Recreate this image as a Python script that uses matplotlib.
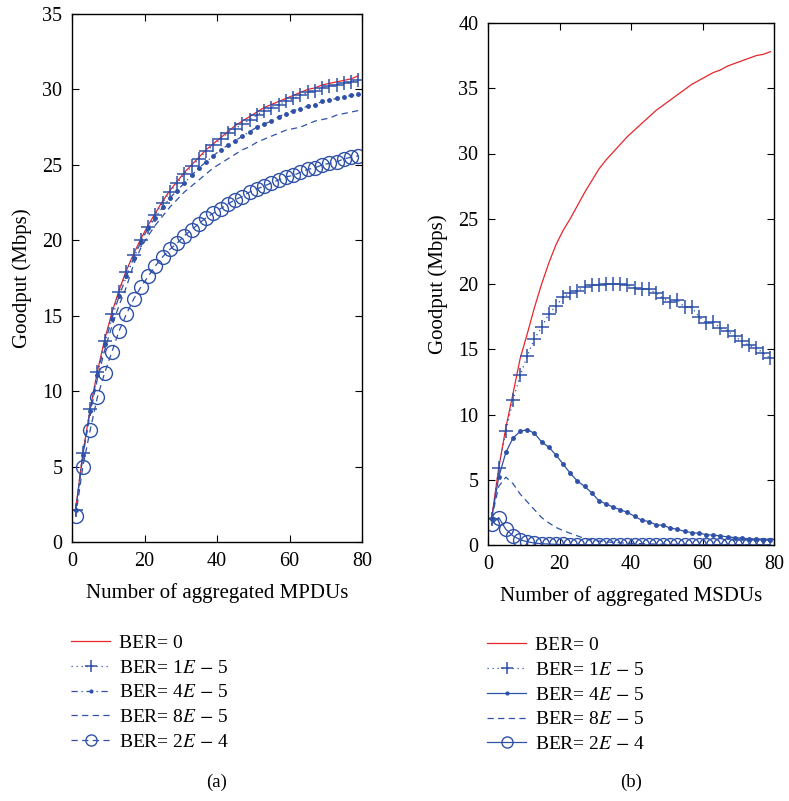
import numpy as np
import matplotlib
matplotlib.use('Agg')
import matplotlib.pyplot as plt

plt.rcParams['font.family'] = ['Liberation Serif', 'DejaVu Serif']
plt.rcParams['mathtext.fontset'] = 'stix'

# x positions (number of aggregated frames, odd values)
n_frames = list(range(1, 80, 2))

# (a) MPDU aggregation, goodput in Mbps
mpdu_ber0 = [2.1, 5.9, 8.8, 11.3, 13.4, 15.2, 16.7, 18.0, 19.1, 20.1,
             21.0, 21.8, 22.6, 23.3, 23.9, 24.5, 25.0, 25.5, 26.0, 26.4,
             26.8, 27.2, 27.6, 27.9, 28.2, 28.5, 28.8, 29.0, 29.2, 29.4,
             29.6, 29.8, 30.0, 30.1, 30.3, 30.4, 30.5, 30.6, 30.7, 30.9]
mpdu_1e5 = [2.1, 5.9, 8.8, 11.3, 13.3, 15.1, 16.6, 17.9, 19.0, 20.0,
            20.9, 21.7, 22.5, 23.2, 23.8, 24.4, 24.9, 25.4, 25.9, 26.3,
            26.7, 27.1, 27.4, 27.7, 28.0, 28.3, 28.6, 28.8, 29.0, 29.2,
            29.4, 29.6, 29.8, 29.9, 30.1, 30.2, 30.3, 30.4, 30.5, 30.6]
mpdu_4e5 = [2.1, 5.8, 8.7, 11.1, 13.1, 14.8, 16.3, 17.6, 18.8, 19.9,
            20.8, 21.5, 22.2, 22.8, 23.3, 23.8, 24.3, 24.8, 25.2, 25.6,
            26.0, 26.3, 26.6, 26.9, 27.2, 27.5, 27.7, 27.9, 28.2, 28.4,
            28.6, 28.7, 28.9, 29.0, 29.2, 29.3, 29.4, 29.5, 29.6, 29.7]
mpdu_8e5 = [2.1, 5.7, 8.5, 10.8, 12.7, 14.3, 15.7, 16.9, 18.4, 19.5,
            20.3, 21.0, 21.6, 22.2, 22.7, 23.2, 23.6, 24.0, 24.4, 24.8,
            25.1, 25.4, 25.7, 26.0, 26.2, 26.5, 26.7, 26.9, 27.1, 27.3,
            27.4, 27.5, 27.7, 27.9, 28.0, 28.1, 28.3, 28.4, 28.5, 28.6]
mpdu_2e4 = [1.7, 5.0, 7.4, 9.6, 11.2, 12.6, 14.0, 15.1, 16.1, 16.9,
            17.6, 18.3, 18.9, 19.4, 19.8, 20.3, 20.7, 21.1, 21.5, 21.8,
            22.1, 22.4, 22.7, 22.9, 23.2, 23.4, 23.6, 23.8, 24.0, 24.2,
            24.3, 24.5, 24.7, 24.8, 25.0, 25.1, 25.2, 25.4, 25.5, 25.6]

# (b) MSDU aggregation, goodput in Mbps
msdu_ber0 = [2.0, 5.9, 9.0, 11.6, 14.3, 16.2, 18.2, 20.0, 21.6, 23.0,
             24.1, 25.0, 26.0, 27.0, 27.9, 28.8, 29.5, 30.1, 30.7, 31.3,
             31.8, 32.3, 32.8, 33.3, 33.7, 34.1, 34.5, 34.9, 35.3, 35.6,
             35.9, 36.2, 36.4, 36.7, 36.9, 37.1, 37.3, 37.5, 37.6, 37.8]
msdu_1e5 = [2.0, 5.9, 8.7, 11.1, 13.0, 14.5, 15.8, 16.7, 17.7, 18.3,
            19.0, 19.3, 19.5, 19.8, 19.9, 19.9, 20.0, 20.0, 20.0, 19.9,
            19.7, 19.6, 19.6, 19.3, 18.9, 18.6, 18.8, 18.2, 18.2, 17.5,
            17.0, 17.1, 16.6, 16.4, 16.0, 15.6, 15.3, 15.1, 14.7, 14.3]
msdu_4e5 = [2.0, 5.2, 7.1, 8.2, 8.7, 8.85, 8.55, 7.9, 7.5, 6.9,
            6.2, 5.5, 4.9, 4.5, 4.0, 3.4, 3.15, 2.9, 2.7, 2.5,
            2.2, 1.9, 1.8, 1.55, 1.5, 1.3, 1.2, 1.05, 0.95, 0.9,
            0.8, 0.75, 0.7, 0.62, 0.57, 0.52, 0.48, 0.45, 0.42, 0.4]
msdu_8e5 = [2.0, 4.5, 5.2, 4.7, 3.9, 3.3, 2.7, 2.1, 1.7, 1.35,
            1.1, 0.9, 0.7, 0.5, 0.4, 0.3, 0.25, 0.2, 0.17, 0.14,
            0.12, 0.1, 0.08, 0.07, 0.06, 0.05, 0.04, 0.04, 0.03, 0.03,
            0.03, 0.02, 0.02, 0.02, 0.02, 0.01, 0.01, 0.01, 0.01, 0.01]
msdu_2e4 = [1.6, 2.1, 1.2, 0.7, 0.4, 0.25, 0.15, 0.1, 0.07, 0.05,
            0.04, 0.03, 0.03, 0.02, 0.02, 0.02, 0.02, 0.01, 0.01, 0.01,
            0.01, 0.01, 0.01, 0.01, 0.01, 0.01, 0.01, 0.01, 0.01, 0.01,
            0.01, 0.01, 0.01, 0.01, 0.01, 0.01, 0.01, 0.01, 0.01, 0.01]

labels = ['BER= 0', 'BER= 1$E$ $-$ 5', 'BER= 4$E$ $-$ 5',
          'BER= 8$E$ $-$ 5', 'BER= 2$E$ $-$ 4']

RED = '#e8252b'
BLUE = '#2f51a8'
FS = 15
DASH = (0, (5, 3.5))
DOT = (0, (1, 3))
DASHDOT = (0, (5, 3, 1, 3))

fig = plt.figure(figsize=(7.89, 8.01), dpi=100)
ax_a = fig.add_axes([72 / 789, 1 - 542 / 801, 290 / 789, 528 / 801])
ax_b = fig.add_axes([488 / 789, 1 - 545 / 801, 286 / 789, 522 / 801])

# panel (a)
ax_a.plot(n_frames, mpdu_ber0, '-', color=RED, lw=0.9, label=labels[0])
ax_a.plot(n_frames, mpdu_1e5, color=BLUE, ls=DOT, lw=0.9, marker='+', ms=10,
          mew=1.1, label=labels[1])
ax_a.plot(n_frames, mpdu_4e5, color=BLUE, ls=DASHDOT, lw=0.9, marker='.',
          ms=5, label=labels[2])
ax_a.plot(n_frames, mpdu_8e5, color=BLUE, ls=DASH, lw=0.9, label=labels[3])
ax_a.plot(n_frames, mpdu_2e4, color=BLUE, ls=DASH, lw=0.9, marker='o', ms=10,
          mfc='none', mew=1.0, label=labels[4])
ax_a.set_ylim(0, 35)
ax_a.set_yticks(np.arange(0, 36, 5))

# panel (b)
ax_b.plot(n_frames, msdu_ber0, '-', color=RED, lw=0.9, label=labels[0])
ax_b.plot(n_frames, msdu_1e5, color=BLUE, ls=DOT, lw=0.9, marker='+', ms=10,
          mew=1.1, label=labels[1])
ax_b.plot(n_frames, msdu_4e5, '-', color=BLUE, lw=0.9, marker='.', ms=5,
          label=labels[2])
ax_b.plot(n_frames, msdu_8e5, color=BLUE, ls=DASH, lw=0.9, label=labels[3])
ax_b.plot(n_frames, msdu_2e4, '-', color=BLUE, lw=0.9, marker='o', ms=10,
          mfc='none', mew=1.0, label=labels[4])
ax_b.set_ylim(0, 40)
ax_b.set_yticks(np.arange(0, 41, 5))

for ax, xl, cap in [(ax_a, 'Number of aggregated MPDUs', '(a)'),
                    (ax_b, 'Number of aggregated MSDUs', '(b)')]:
    ax.set_xlim(0, 80)
    ax.set_xticks([0, 20, 40, 60, 80])
    ax.tick_params(direction='in', top=True, right=True, length=5,
                   labelsize=FS - 0.5, pad=7)
    ax.set_xlabel(xl, fontsize=FS, labelpad=9)
    ax.set_ylabel('Goodput (Mbps)', fontsize=FS, labelpad=7)
    for s in ax.spines.values():
        s.set_linewidth(1.0)
    ax.legend(loc='upper left', bbox_to_anchor=(-0.03, -0.16), frameon=False,
              fontsize=FS - 1, handlelength=2.0, handletextpad=0.45,
              labelspacing=0.37, borderaxespad=0, markerscale=0.8)
    ax.text(0.5, -0.455, cap, transform=ax.transAxes, ha='center',
            va='center', fontsize=FS - 1.5)

fig.savefig('out.png', dpi=100)
